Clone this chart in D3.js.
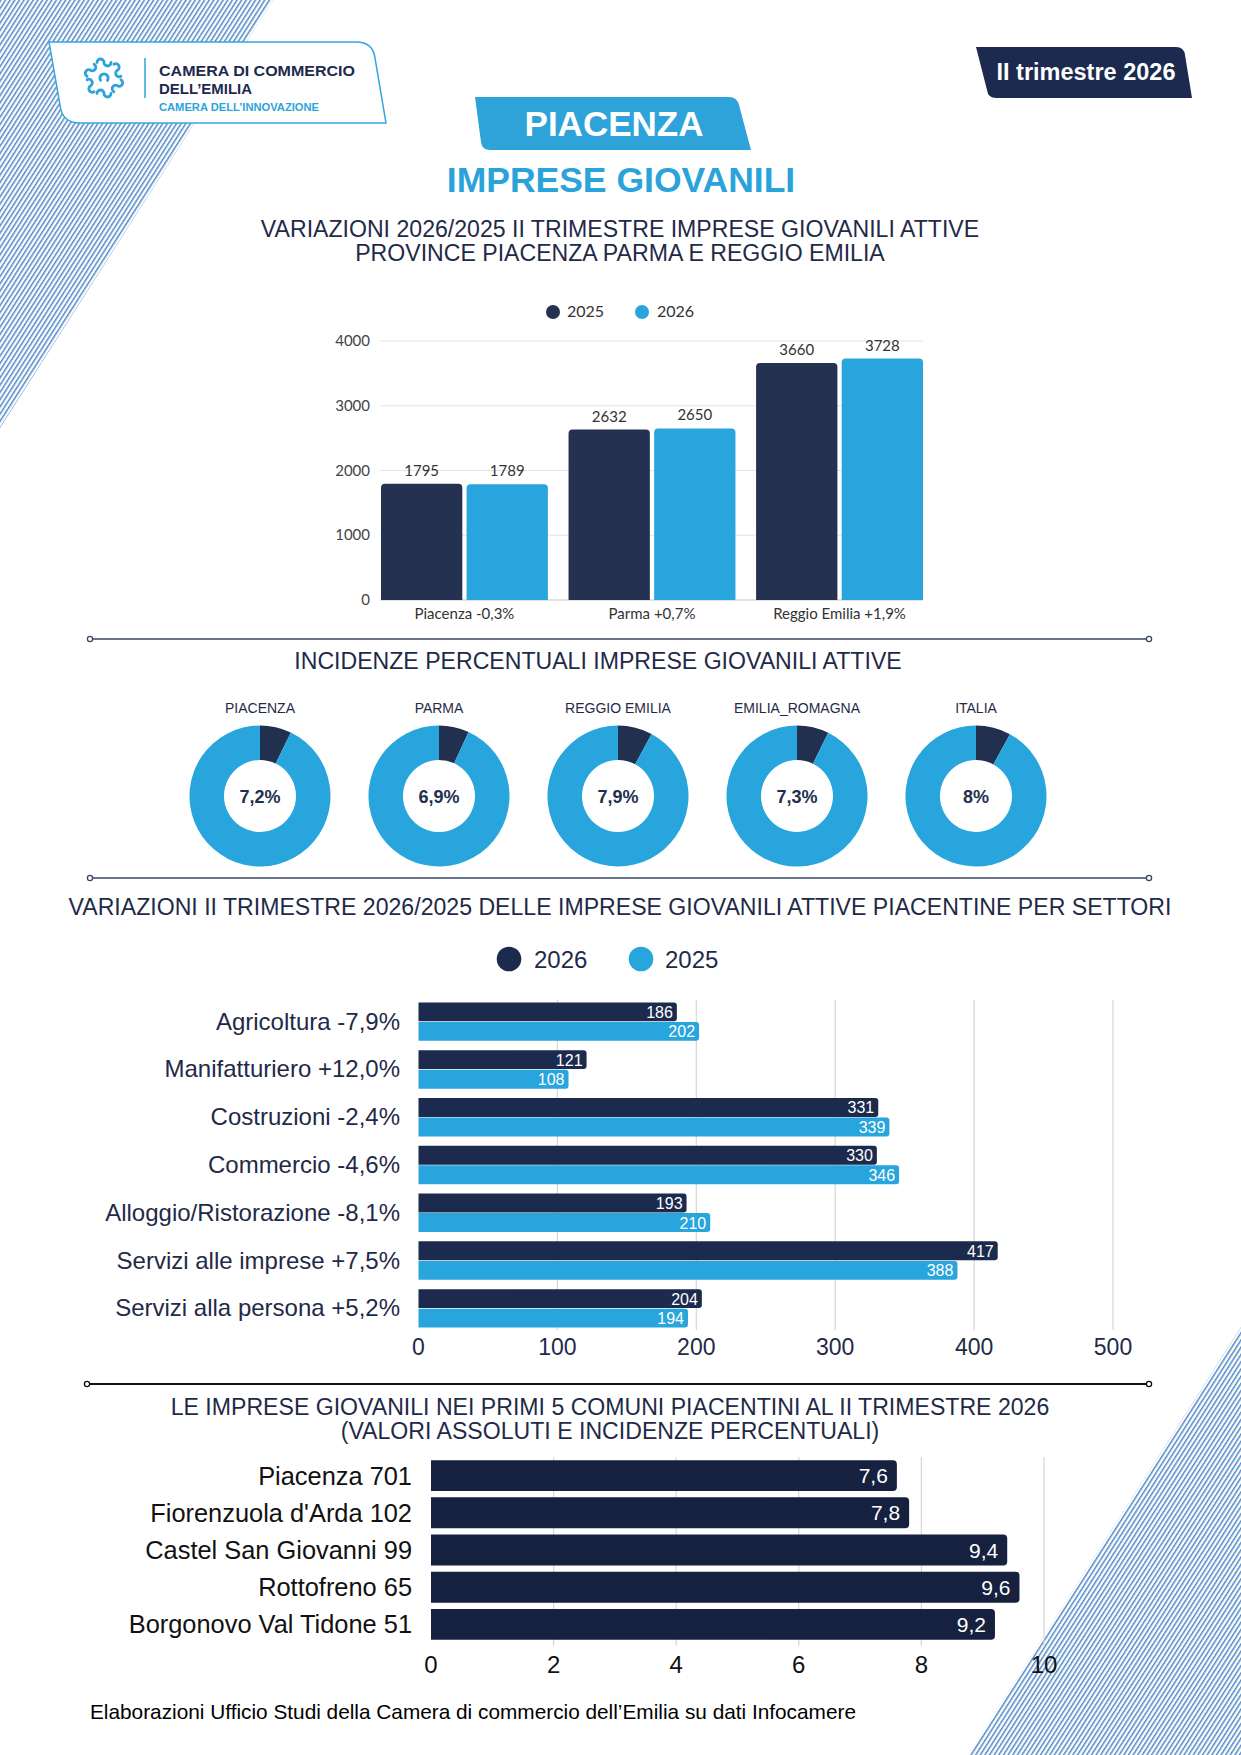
<!DOCTYPE html>
<html>
<head>
<meta charset="utf-8">
<script src="https://cdn.jsdelivr.net/npm/d3@7"></script>
<style>
  body { margin: 0; background: #fff; }
  svg { display: block; }
</style>
</head>
<body>
<svg id="page" width="1241" height="1755"></svg>
<script>
// ---- data ----
const years = ["2025", "2026"];
const provinces = ["Piacenza -0,3%", "Parma +0,7%", "Reggio Emilia +1,9%"];
const prov2025 = [1795, 2632, 3660];
const prov2026 = [1789, 2650, 3728];
const provTicks = [0, 1000, 2000, 3000, 4000];

const areas = ["PIACENZA", "PARMA", "REGGIO EMILIA", "EMILIA_ROMAGNA", "ITALIA"];
const shares = [7.2, 6.9, 7.9, 7.3, 8];
const shareLabels = ["7,2%", "6,9%", "7,9%", "7,3%", "8%"];

const sectorYears = ["2026", "2025"];
const sectors = [
  "Agricoltura -7,9%",
  "Manifatturiero +12,0%",
  "Costruzioni -2,4%",
  "Commercio -4,6%",
  "Alloggio/Ristorazione -8,1%",
  "Servizi alle imprese +7,5%",
  "Servizi alla persona +5,2%",
];
const sect2026 = [186, 121, 331, 330, 193, 417, 204];
const sect2025 = [202, 108, 339, 346, 210, 388, 194];
const sectTicks = [0, 100, 200, 300, 400, 500];

const towns = [
  "Piacenza 701",
  "Fiorenzuola d'Arda 102",
  "Castel San Giovanni 99",
  "Rottofreno 65",
  "Borgonovo Val Tidone 51",
];
const townShares = [7.6, 7.8, 9.4, 9.6, 9.2];
const townLabels = ["7,6", "7,8", "9,4", "9,6", "9,2"];
const townTicks = [0, 2, 4, 6, 8, 10];

// ---- colours / fonts ----
const navy = "#1c2a4e";
const navyDark = "#16213f";
const blue = "#27a5dc";
const textNavy = "#1f2a48";
const arial = "'Liberation Sans', Arial, sans-serif";
const lato = "Lato, sans-serif";

const svg = d3.select("#page");
const defs = svg.append("defs");

// rounded bars
const barTop = (x, y, w, h, r) =>
  `M${x},${y + h}V${y + r}Q${x},${y} ${x + r},${y}H${x + w - r}Q${x + w},${y} ${x + w},${y + r}V${y + h}Z`;
const barRight = (x, y, w, h, r) =>
  `M${x},${y}H${x + w - r}Q${x + w},${y} ${x + w},${y + r}V${y + h - r}Q${x + w},${y + h} ${x + w - r},${y + h}H${x}Z`;

// ---- background stripes ----
const pat = defs
  .append("pattern")
  .attr("id", "stripes")
  .attr("patternUnits", "userSpaceOnUse")
  .attr("width", 3.9)
  .attr("height", 10)
  .attr("patternTransform", "rotate(32.6)");
pat.append("rect").attr("width", 1.5).attr("height", 10).attr("fill", "#5089c6");

svg.append("path").attr("d", "M0,0L273,0L0,428Z").attr("fill", "url(#stripes)");
svg.append("path").attr("d", "M1241,1327L1241,1755L968,1755Z").attr("fill", "url(#stripes)");

// ---- header ----
svg
  .append("path")
  .attr("d", "M49,42L356,42Q373,42 375,58L386,123L80,123Q62,123 60,105Z")
  .attr("fill", "#fff")
  .attr("stroke", "#35a6dc")
  .attr("stroke-width", 1.5);

// logo swirl
const logo = svg.append("g").attr("transform", "translate(104,78)");
d3.range(6).forEach((i) => {
  const a = -90 + i * 60;
  logo
    .append("path")
    .attr("transform", `rotate(${a}) translate(15.5,0) rotate(90)`)
    .attr("d", "M-7,0A3.5,3.5 0 0 1 0,0A3.5,3.5 0 0 0 7,0")
    .attr("fill", "none")
    .attr("stroke", "#2ea3da")
    .attr("stroke-width", 2.8)
    .attr("stroke-linecap", "round");
});
logo
  .append("path")
  .attr("d", d3.arc()({ innerRadius: 2.6, outerRadius: 5.6, startAngle: 0.7, endAngle: 5.6 }))
  .attr("transform", "rotate(180)")
  .attr("fill", "#2ea3da");

svg.append("line").attr("x1", 145).attr("x2", 145).attr("y1", 58).attr("y2", 98)
  .attr("stroke", "#2ea3da").attr("stroke-width", 1.5);

const logoText = [
  { t: "CAMERA DI COMMERCIO", y: 76, len: 196, size: 15.5, c: "#1c2a4e" },
  { t: "DELL’EMILIA", y: 94, len: 93, size: 15.5, c: "#1c2a4e" },
  { t: "CAMERA DELL’INNOVAZIONE", y: 111, len: 160, size: 11, c: "#2ea3da" },
];
svg
  .selectAll(".logo-text")
  .data(logoText)
  .join("text")
  .attr("class", "logo-text")
  .attr("x", 159)
  .attr("y", (d) => d.y)
  .attr("textLength", (d) => d.len)
  .attr("lengthAdjust", "spacingAndGlyphs")
  .style("font-family", arial)
  .style("font-size", (d) => d.size + "px")
  .style("font-weight", 700)
  .style("fill", (d) => d.c)
  .text((d) => d.t);

// "II trimestre 2026" tag
svg
  .append("path")
  .attr("d", "M976,47L1176,47Q1184,47 1185,55L1192,98L996,98Q988,98 987,90Z")
  .attr("fill", "#1b2a4e");
svg
  .append("text")
  .attr("x", 1086)
  .attr("y", 80)
  .attr("text-anchor", "middle")
  .style("font-family", arial)
  .style("font-size", "23.5px")
  .style("font-weight", "700")
  .style("fill", "#fff")
  .text("II trimestre 2026");

// PIACENZA tag
svg
  .append("path")
  .attr("d", "M475,97L729,97Q737,97 739,105L751,150L490,150Q482,150 481,142Z")
  .attr("fill", "#2ea3da");
svg
  .append("text")
  .attr("x", 614)
  .attr("y", 136)
  .attr("text-anchor", "middle")
  .style("font-family", arial)
  .style("font-size", "35px")
  .style("font-weight", "700")
  .style("fill", "#fff")
  .text("PIACENZA");

svg
  .append("text")
  .attr("x", 621)
  .attr("y", 192)
  .attr("text-anchor", "middle")
  .style("font-family", arial)
  .style("font-size", "35.5px")
  .style("font-weight", "700")
  .style("fill", "#2aa3da")
  .text("IMPRESE GIOVANILI");

const title = (lines, y0, cx = 620) => {
  lines.forEach((line, i) => {
    svg
      .append("text")
      .attr("x", cx)
      .attr("y", y0 + i * 24)
      .attr("text-anchor", "middle")
      .style("font-family", arial)
      .style("font-size", "23.1px")
      .style("fill", textNavy)
      .text(line);
  });
};

const separator = (y, x1, x2, color, width) => {
  svg.append("line").attr("x1", x1).attr("x2", x2).attr("y1", y).attr("y2", y)
    .attr("stroke", color).attr("stroke-width", width);
  [x1, x2].forEach((x) => {
    svg.append("circle").attr("cx", x).attr("cy", y).attr("r", 2.6)
      .attr("fill", "#fff").attr("stroke", color).attr("stroke-width", 1.3);
  });
};

// ---- chart 1: provinces ----
title(["VARIAZIONI 2026/2025 II TRIMESTRE IMPRESE GIOVANILI ATTIVE",
       "PROVINCE PIACENZA PARMA E REGGIO EMILIA"], 237);

const legend1 = [
  { name: years[0], color: "#253150", cx: 553, tx: 567 },
  { name: years[1], color: blue, cx: 642, tx: 657 },
];
legend1.forEach((d) => {
  svg.append("circle").attr("cx", d.cx).attr("cy", 312).attr("r", 7).attr("fill", d.color);
  svg.append("text").attr("x", d.tx).attr("y", 317)
    .style("font-family", lato).style("font-size", "16px").style("fill", "#333").text(d.name);
});

const c1 = svg.append("g");
const x0 = d3.scaleBand().domain(provinces).range([381, 923]).paddingInner(0.11).paddingOuter(0);
const x1 = d3.scaleBand().domain(years).range([0, x0.bandwidth()]).paddingInner(0.05);
const y1 = d3.scaleLinear().domain([0, 4000]).range([600, 341]);

c1.append("g")
  .selectAll("line")
  .data(provTicks)
  .join("line")
  .attr("x1", 380).attr("x2", 923)
  .attr("y1", (d) => y1(d)).attr("y2", (d) => y1(d))
  .attr("stroke", (d) => (d === 0 ? "#c8c8c8" : "#e3e3e3"))
  .attr("stroke-width", 1.2);

c1.append("g")
  .selectAll("text")
  .data(provTicks)
  .join("text")
  .attr("x", 370)
  .attr("y", (d) => y1(d) + 5)
  .attr("text-anchor", "end")
  .style("font-family", lato).style("font-size", "15px").style("fill", "#444")
  .text((d) => d);

const provRows = provinces.map((p, i) => ({
  p,
  vals: [
    { y: years[0], v: prov2025[i], c: "#253150" },
    { y: years[1], v: prov2026[i], c: blue },
  ],
}));

const groups1 = c1.selectAll(".grp").data(provRows).join("g").attr("class", "grp")
  .attr("transform", (d) => `translate(${x0(d.p)},0)`);
groups1.selectAll("path").data((d) => d.vals).join("path")
  .attr("d", (d) => barTop(x1(d.y), y1(d.v), x1.bandwidth(), y1(0) - y1(d.v), 4))
  .attr("fill", (d) => d.c);
groups1.selectAll("text").data((d) => d.vals).join("text")
  .attr("x", (d) => x1(d.y) + x1.bandwidth() / 2)
  .attr("y", (d) => y1(d.v) - 8)
  .attr("text-anchor", "middle")
  .style("font-family", lato).style("font-size", "15px").style("fill", "#333")
  .text((d) => d.v);

c1.append("g")
  .selectAll("text")
  .data(provinces)
  .join("text")
  .attr("x", (d) => x0(d) + x0.bandwidth() / 2)
  .attr("y", 619)
  .attr("text-anchor", "middle")
  .style("font-family", lato).style("font-size", "15px").style("fill", "#333")
  .text((d) => d);

separator(639, 90, 1149, "#3a4564", 1.5);

// ---- chart 2: donuts ----
title(["INCIDENZE PERCENTUALI IMPRESE GIOVANILI ATTIVE"], 669, 598);

const donutX = d3.scalePoint().domain(areas).range([260, 976]);
const pie = d3.pie().sort(null);
const arc = d3.arc().innerRadius(36).outerRadius(70.5);

const donuts = svg.selectAll(".donut").data(areas).join("g").attr("class", "donut")
  .attr("transform", (d) => `translate(${donutX(d)},796)`);
donuts.selectAll("path")
  .data((d, i) => pie([shares[i], 100 - shares[i]]))
  .join("path")
  .attr("d", arc)
  .attr("fill", (d, i) => (i === 0 ? "#22304f" : blue));
donuts.append("text")
  .attr("y", 7)
  .attr("text-anchor", "middle")
  .style("font-family", arial).style("font-size", "18px").style("font-weight", "700")
  .style("fill", "#22304f")
  .text((d, i) => shareLabels[i]);
donuts.append("text")
  .attr("y", -83)
  .attr("text-anchor", "middle")
  .style("font-family", arial).style("font-size", "14px").style("fill", textNavy)
  .text((d) => d);

separator(878, 90, 1149, "#3a4564", 1.5);

// ---- chart 3: sectors ----
title(["VARIAZIONI II TRIMESTRE 2026/2025 DELLE IMPRESE GIOVANILI ATTIVE PIACENTINE PER SETTORI"], 915);

const legend3 = [
  { name: sectorYears[0], color: navy, cx: 509, tx: 534 },
  { name: sectorYears[1], color: blue, cx: 641, tx: 665 },
];
legend3.forEach((d) => {
  svg.append("circle").attr("cx", d.cx).attr("cy", 959).attr("r", 12.3).attr("fill", d.color);
  svg.append("text").attr("x", d.tx).attr("y", 968)
    .style("font-family", arial).style("font-size", "24px").style("fill", textNavy).text(d.name);
});

const c3 = svg.append("g");
const xs = d3.scaleLinear().domain([0, 500]).range([418.5, 1113]);
const ys = d3.scaleBand().domain(sectors).range([1000, 1330]).paddingInner(0.195).paddingOuter(0.05);
const ysInner = d3.scaleBand().domain(sectorYears).range([0, ys.bandwidth()]).paddingInner(0.03);

c3.append("g")
  .selectAll("line")
  .data(sectTicks.slice(1))
  .join("line")
  .attr("x1", (d) => xs(d)).attr("x2", (d) => xs(d))
  .attr("y1", 1000).attr("y2", 1330)
  .attr("stroke", "#d6d6d6").attr("stroke-width", 1.2);

c3.append("g")
  .selectAll("text")
  .data(sectTicks)
  .join("text")
  .attr("x", (d) => xs(d))
  .attr("y", 1355)
  .attr("text-anchor", "middle")
  .style("font-family", arial).style("font-size", "23px").style("fill", textNavy)
  .text((d) => d);

const sectRows = sectors.map((s, i) => ({
  s,
  vals: [
    { y: sectorYears[0], v: sect2026[i], c: navy },
    { y: sectorYears[1], v: sect2025[i], c: blue },
  ],
}));

const groups3 = c3.selectAll(".sgrp").data(sectRows).join("g").attr("class", "sgrp")
  .attr("transform", (d) => `translate(0,${ys(d.s)})`);
groups3.selectAll("path").data((d) => d.vals).join("path")
  .attr("d", (d) => barRight(xs(0), ysInner(d.y), xs(d.v) - xs(0), ysInner.bandwidth(), 3))
  .attr("fill", (d) => d.c);
groups3.selectAll("text").data((d) => d.vals).join("text")
  .attr("x", (d) => xs(d.v) - 4)
  .attr("y", (d) => ysInner(d.y) + ysInner.bandwidth() / 2 + 6)
  .attr("text-anchor", "end")
  .style("font-family", arial).style("font-size", "16px").style("fill", "#fff")
  .text((d) => d.v);

c3.append("g")
  .selectAll("text")
  .data(sectors)
  .join("text")
  .attr("x", 400)
  .attr("y", (d) => ys(d) + ys.bandwidth() / 2 + 8)
  .attr("text-anchor", "end")
  .style("font-family", arial).style("font-size", "24px").style("fill", textNavy)
  .text((d) => d);

separator(1384, 87, 1149, "#111", 2);

// ---- chart 4: towns ----
title(["LE IMPRESE GIOVANILI NEI PRIMI 5 COMUNI PIACENTINI AL II TRIMESTRE 2026",
       "(VALORI ASSOLUTI E INCIDENZE PERCENTUALI)"], 1415, 610);

const c4 = svg.append("g");
const xt = d3.scaleLinear().domain([0, 10]).range([431, 1044]);
const yt = d3.scaleBand().domain(towns).range([1457, 1643]).paddingInner(0.17).paddingOuter(0.085);

c4.append("g")
  .selectAll("line")
  .data(townTicks.slice(1))
  .join("line")
  .attr("x1", (d) => xt(d)).attr("x2", (d) => xt(d))
  .attr("y1", 1457).attr("y2", 1646)
  .attr("stroke", "#d6d6d6").attr("stroke-width", 1.2);

c4.append("g")
  .selectAll("path")
  .data(towns)
  .join("path")
  .attr("d", (d, i) => barRight(xt(0), yt(d), xt(townShares[i]) - xt(0), yt.bandwidth(), 4))
  .attr("fill", navyDark);

c4.append("g")
  .selectAll("text")
  .data(towns)
  .join("text")
  .attr("x", (d, i) => xt(townShares[i]) - 9)
  .attr("y", (d) => yt(d) + yt.bandwidth() / 2 + 7.5)
  .attr("text-anchor", "end")
  .style("font-family", arial).style("font-size", "21px").style("fill", "#fff")
  .text((d, i) => townLabels[i]);

c4.append("g")
  .selectAll("text")
  .data(towns)
  .join("text")
  .attr("x", 412)
  .attr("y", (d) => yt(d) + yt.bandwidth() / 2 + 9)
  .attr("text-anchor", "end")
  .style("font-family", arial).style("font-size", "25.4px").style("fill", "#111")
  .text((d) => d);

c4.append("g")
  .selectAll("text")
  .data(townTicks)
  .join("text")
  .attr("x", (d) => xt(d))
  .attr("y", 1673)
  .attr("text-anchor", "middle")
  .style("font-family", arial).style("font-size", "24px").style("fill", "#111")
  .text((d) => d);

// ---- footer ----
svg
  .append("text")
  .attr("x", 90)
  .attr("y", 1719)
  .style("font-family", arial)
  .style("font-size", "20.8px")
  .style("fill", "#000")
  .text("Elaborazioni Ufficio Studi della Camera di commercio dell’Emilia su dati Infocamere");
</script>
</body>
</html>
